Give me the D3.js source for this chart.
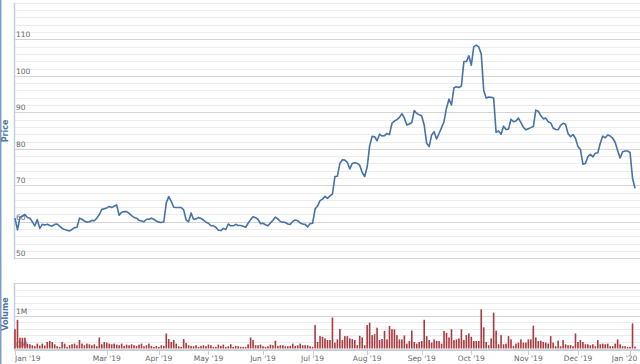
<!DOCTYPE html>
<html><head><meta charset="utf-8">
<script src="https://cdn.jsdelivr.net/npm/d3@7"></script>
<style>
body{margin:0;background:#fff}
svg{display:block;font-family:"DejaVu Sans",Verdana,sans-serif}
</style>
</head><body><svg id="c" width="640" height="364"></svg>
<script>
// Daily closing prices (trading days, Jan 2019 - Jan 2020)
const prices = [
61.0,57.8,61.3,61.5,62.0,61.2,61.0,60.0,58.9,60.6,
58.2,59.3,59.1,59.3,59.0,58.8,59.3,59.4,58.8,58.2,
57.9,57.7,57.5,57.9,58.4,58.5,61.0,60.7,60.2,59.9,
60.0,60.4,60.3,61.0,62.0,63.4,63.6,63.8,64.2,63.9,
64.3,64.6,61.8,62.6,62.8,62.8,62.3,61.7,61.2,61.0,
60.4,60.2,60.0,60.7,60.7,61.0,60.7,60.2,59.9,59.8,
60.0,65.2,66.9,65.6,64.0,63.9,63.9,63.9,63.3,60.5,
60.0,62.4,60.7,60.8,61.2,60.9,60.5,59.9,59.6,58.9,
58.9,58.5,57.7,57.6,58.2,57.9,59.4,58.9,58.9,59.3,
59.0,59.0,58.8,58.5,59.6,60.6,61.4,61.1,60.7,59.5,
59.6,59.2,58.9,59.7,60.4,61.3,60.8,60.1,59.9,59.8,
59.4,59.3,60.1,60.5,60.3,59.7,59.4,59.3,58.6,59.5,
59.6,63.5,64.3,65.8,66.2,67.0,66.4,67.1,67.6,72.4,
72.5,76.0,77.0,76.9,76.3,74.5,76.0,76.2,76.0,75.5,
73.5,72.4,75.0,80.8,83.4,83.3,82.2,84.0,83.5,83.6,
84.2,83.9,87.0,87.6,88.0,88.6,89.6,88.4,86.5,86.8,
87.2,90.5,89.7,89.3,89.0,86.5,81.5,80.6,83.8,84.7,
82.7,84.2,85.8,87.5,91.2,93.6,92.0,96.7,97.0,96.8,
97.2,103.9,103.9,105.5,102.9,108.0,108.4,107.9,106.0,96.0,
93.9,94.2,94.1,93.9,84.5,84.9,84.0,86.2,85.3,85.4,
88.1,87.4,87.6,88.4,87.2,85.9,85.2,85.5,85.8,86.1,
90.6,90.3,89.1,88.2,88.4,87.4,87.1,85.7,85.3,85.2,
86.4,87.0,86.7,84.2,83.3,83.9,82.9,80.6,79.8,75.8,
76.0,77.8,78.5,77.8,78.8,78.9,81.5,83.5,83.0,83.8,
83.5,82.9,81.8,79.5,77.5,79.2,79.4,79.4,79.0,72.0,
69.2
];
// Daily volume, in millions of shares
const volumesM = [
0.59,0.88,0.33,0.33,0.33,0.15,0.13,0.10,0.07,0.15,
0.09,0.15,0.09,0.20,0.23,0.20,0.13,0.07,0.05,0.20,
0.15,0.05,0.10,0.13,0.15,0.10,0.26,0.15,0.10,0.15,
0.13,0.10,0.13,0.07,0.34,0.13,0.20,0.18,0.15,0.13,
0.15,0.12,0.10,0.15,0.08,0.12,0.10,0.13,0.10,0.08,
0.12,0.15,0.07,0.10,0.15,0.08,0.05,0.08,0.05,0.10,
0.08,0.46,0.29,0.20,0.26,0.15,0.07,0.05,0.29,0.17,
0.10,0.08,0.07,0.10,0.05,0.08,0.10,0.07,0.12,0.10,
0.05,0.05,0.12,0.08,0.12,0.05,0.07,0.13,0.05,0.08,
0.07,0.05,0.05,0.05,0.13,0.34,0.26,0.10,0.10,0.12,
0.07,0.05,0.07,0.12,0.10,0.24,0.08,0.10,0.10,0.07,
0.07,0.08,0.15,0.08,0.10,0.15,0.10,0.10,0.10,0.07,
0.05,0.72,0.20,0.38,0.36,0.31,0.26,0.26,0.95,0.18,
0.28,0.60,0.26,0.38,0.38,0.31,0.29,0.26,0.10,0.39,
0.34,0.10,0.72,0.79,0.41,0.44,0.64,0.26,0.29,0.54,
0.28,0.69,0.59,0.59,0.41,0.28,0.28,0.40,0.15,0.23,
0.55,0.20,0.15,0.20,0.23,0.88,0.38,0.26,0.18,0.28,
0.23,0.23,0.15,0.54,0.48,0.34,0.59,0.26,0.28,0.31,
0.59,0.26,0.41,0.46,0.36,0.23,0.23,0.23,1.20,0.65,
0.20,0.10,0.31,1.10,0.55,0.13,0.41,0.13,0.15,0.38,
0.28,0.08,0.15,0.18,0.28,0.18,0.18,0.28,0.28,0.70,
0.34,0.23,0.24,0.20,0.18,0.15,0.38,0.18,0.07,0.24,
0.07,0.26,0.13,0.10,0.10,0.07,0.46,0.20,0.26,0.20,
0.13,0.13,0.10,0.13,0.07,0.26,0.13,0.15,0.13,0.15,
0.07,0.07,0.15,0.28,0.13,0.07,0.07,0.05,0.05,0.77,
0.06
];
// Month tick labels and the trading-day index where each month starts
const monthLabels = ["Jan '19","Mar '19","Apr '19","May '19","Jun '19","Jul '19","Aug '19","Sep '19","Oct '19","Nov '19","Dec '19","Jan '20"];
const monthIndex  = [0,37,58,78,100,120,142,164,184,207,227,248];
const priceTicks  = [50,60,70,80,90,100,110];
const volumeTicks = [0,1];
const volumeTickLabels = ["0M","1M"];

const svg = d3.select("#c");
const L = 14, R = 640;
const x = d3.scaleLinear().domain([0, 250]).range([15, 635]);
const yP = d3.scaleLinear().domain([50, 120]).range([258.3, 2.8]);
const yV = d3.scaleLinear().domain([0, 2]).range([348.5, 283.3]);

// far-left border stripe
svg.append("rect").attr("x",0).attr("y",0).attr("width",1.5).attr("height",364).attr("fill","#7e9dcc");

// price grid
const pg = svg.append("g");
pg.selectAll("line.minor").data(d3.range(50, 121, 2)).join("line")
  .attr("x1",L).attr("x2",R).attr("y1",d=>Math.round(yP(d))+0.5).attr("y2",d=>Math.round(yP(d))+0.5)
  .attr("stroke","#ececec").attr("stroke-width",1);
pg.selectAll("line.major").data(priceTicks).join("line")
  .attr("x1",L).attr("x2",R).attr("y1",d=>Math.round(yP(d))+0.5).attr("y2",d=>Math.round(yP(d))+0.5)
  .attr("stroke","#d4d4d4").attr("stroke-width",1);
pg.selectAll("text").data(priceTicks).join("text")
  .attr("x",16).attr("y",d=>yP(d)-2).attr("font-size",7.5).attr("fill","#666")
  .text(d=>d);

// volume grid
const vg = svg.append("g");
vg.selectAll("line.minor").data(d3.range(0, 2.01, 0.2)).join("line")
  .attr("x1",L).attr("x2",R).attr("y1",d=>Math.round(yV(d))+0.5).attr("y2",d=>Math.round(yV(d))+0.5)
  .attr("stroke","#ececec").attr("stroke-width",1);
vg.selectAll("line.major").data([0,1,2]).join("line")
  .attr("x1",L).attr("x2",R).attr("y1",d=>Math.round(yV(d))+0.5).attr("y2",d=>Math.round(yV(d))+0.5)
  .attr("stroke","#d4d4d4").attr("stroke-width",1);

// left axis lines
svg.append("line").attr("x1",L+0.5).attr("x2",L+0.5).attr("y1",yP(120)).attr("y2",yP(50)+1).attr("stroke","#c0d0e0").attr("stroke-width",1.5);
svg.append("line").attr("x1",L+0.5).attr("x2",L+0.5).attr("y1",yV(2)).attr("y2",yV(0)+1).attr("stroke","#c0d0e0").attr("stroke-width",1.5);

// volume bars
svg.append("g").selectAll("rect").data(volumesM).join("rect")
  .attr("x",(d,i)=>x(i)-0.8).attr("width",1.6)
  .attr("y",d=>yV(d)).attr("height",d=>yV(0)-yV(d))
  .attr("fill","#aa3a40");

vg.selectAll("text").data(volumeTicks).join("text")
  .attr("x",16).attr("y",d=>yV(d)-2).attr("font-size",7.5).attr("fill","#666")
  .text((d,i)=>volumeTickLabels[i]);

// price line
svg.append("path").datum(prices)
  .attr("d", d3.line().x((d,i)=>x(i)).y(d=>yP(d)))
  .attr("fill","none").attr("stroke","#4572a7").attr("stroke-width",1.6).attr("stroke-linejoin","round");

// x axis
const xa = svg.append("g");
xa.append("line").attr("x1",L).attr("x2",R).attr("y1",350.5).attr("y2",350.5).attr("stroke","#c0d0e0");
xa.selectAll("line.tick").data(monthIndex).join("line")
  .attr("x1",d=>Math.round(x(d))+0.5).attr("x2",d=>Math.round(x(d))+0.5).attr("y1",350).attr("y2",355)
  .attr("stroke","#c0d0e0");
xa.selectAll("text").data(monthIndex).join("text")
  .attr("x",(d,i)=> i===0 ? 15 : Math.min(x(d), 637 - 12.5))
  .attr("y",361).attr("font-size",7.5).attr("fill","#666")
  .attr("text-anchor",(d,i)=> i===0 ? "start" : "middle")
  .text((d,i)=>monthLabels[i]);

// axis titles
svg.append("text").attr("transform","translate(8,131) rotate(-90)").attr("text-anchor","middle")
  .attr("font-size",8).attr("font-weight","bold").attr("fill","#4d759e").text("Price");
svg.append("text").attr("transform","translate(8,314) rotate(-90)").attr("text-anchor","middle")
  .attr("font-size",8).attr("font-weight","bold").attr("fill","#4d759e").text("Volume");
</script></body></html>
